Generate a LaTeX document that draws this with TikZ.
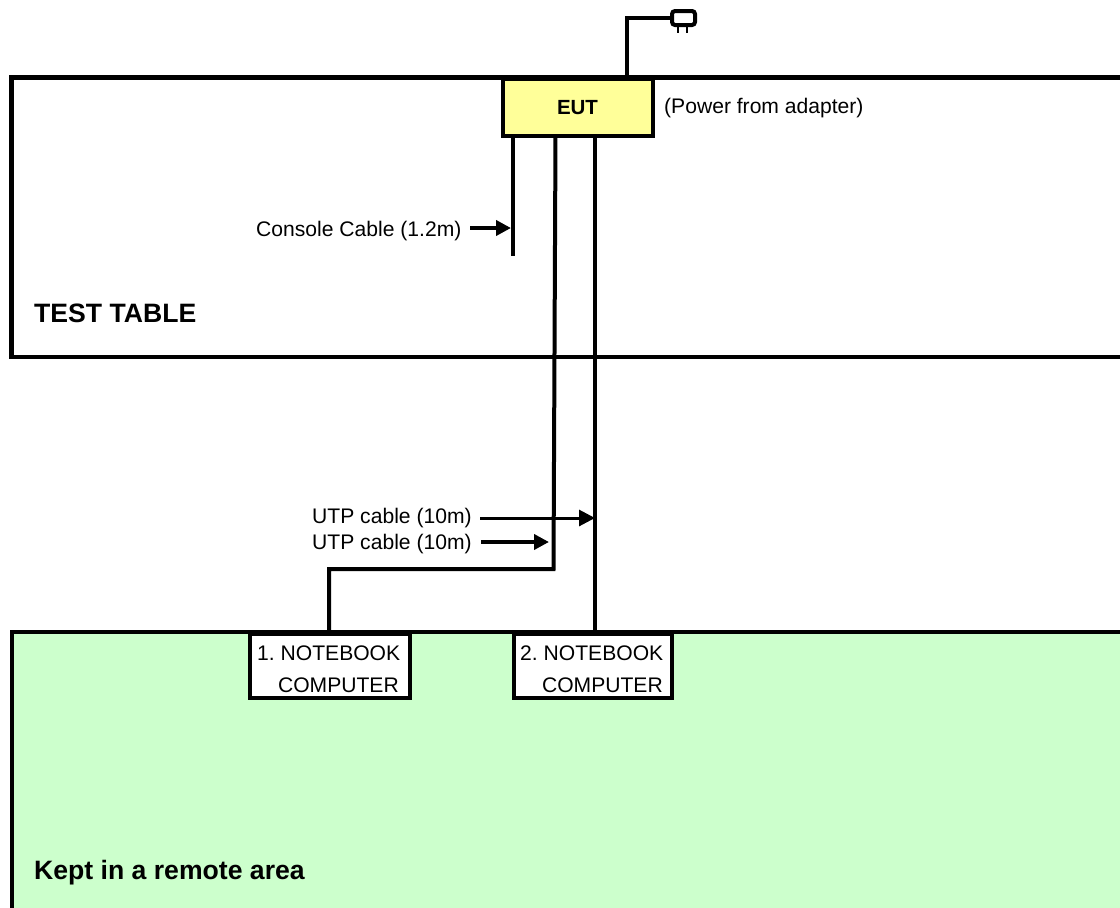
\documentclass[tikz,border=0pt]{standalone}
\usepackage{fontspec}
\setmainfont{Liberation Sans}
\usetikzlibrary{arrows.meta}
\tikzset{
  wire/.style={line width=4pt,line cap=butt,line join=miter},
  tablewire/.style={line width=4.5pt,line cap=butt,line join=miter},
  lbl/.style={font=\fontsize{21.1}{24}\selectfont\frenchspacing,inner sep=0pt,anchor=base west},
  big/.style={font=\fontsize{26.6}{30}\selectfont\bfseries,inner sep=0pt,anchor=base west},
  pointer/.style={line width=3pt,-{Triangle[length=16pt,width=16pt]}},
  pointerb/.style={line width=4pt,-{Triangle[length=15pt,width=15pt]}}
}
\definecolor{eutfill}{RGB}{255,255,153}
\definecolor{remote}{RGB}{204,255,204}
\begin{document}
\begin{tikzpicture}[x=1pt,y=-1pt]
\useasboundingbox (0,0) rectangle (1120,908);
% remote area
\fill[remote] (12,632) rectangle (1120,908);
\draw[wire] (12,908) -- (12,632) -- (1120,632);
% test table
\draw[tablewire] (1120,77.5) -- (11.5,77.5) -- (11.5,357) -- (1120,357);
% free ends
\coordinate (plugL) at (627,18);
\coordinate (consoleEnd) at (513,256);
\coordinate (utpTop) at (555.5,136);
\coordinate (utpBend1) at (553.5,569);
\coordinate (utpBend2) at (329,569);
\coordinate (tipA) at (595,518);
\coordinate (tipB) at (549,542);
\coordinate (tipC) at (511,228);
% equipment
\node[draw=black,line width=4pt,fill=eutfill,minimum width=150pt,minimum height=57pt,inner sep=0pt,
  font=\fontsize{20.5}{24}\selectfont\bfseries] (eut) at (577.5,107.5) {EUT};
\node[draw=black,line width=4pt,fill=white,minimum width=160pt,minimum height=64pt,inner sep=0pt] (nb1) at (330,666) {};
\node[draw=black,line width=4pt,fill=white,minimum width=158pt,minimum height=64pt,inner sep=0pt] (nb2) at (593,666) {};
% plug
\node[draw=black,line width=4pt,rounded corners=3pt,minimum width=23pt,minimum height=14pt,inner sep=0pt] (plug) at (683.5,18) {};
\draw[line width=1.5pt] (678,26) -- (678,33);
\draw[line width=1.5pt] (687,26) -- (687,33);
\draw[wire] (eut.north -| plugL) -- (plugL) -- (plug.west);
% cables
\draw[wire] (eut.south -| consoleEnd) -- (consoleEnd);
\draw[wire] (utpTop) -- (utpBend1) -- (utpBend2) -- (utpBend2 |- nb1.north);
\draw[wire] (eut.south -| tipA) -- (tipA |- nb2.north);
% labels
\node[lbl] (lPower) at (664,113) {(Power from adapter)};
\node[lbl] (lConsole) at (256,236) {Console Cable (1.2m)};
\node[lbl] (lUtpA) at (312,523) {UTP cable (10m)};
\node[lbl] (lUtpB) at (312,549) {UTP cable (10m)};
\node[big] (lTable) at (34,322) {TEST TABLE};
\node[big] (lRemote) at (34,879) {Kept in a remote area};
\node[lbl] (n1a) at (257,660) {1. NOTEBOOK};
\node[lbl,anchor=base east] (n1b) at (399,692) {COMPUTER};
\node[lbl] (n2a) at (520,660) {2. NOTEBOOK};
\node[lbl,anchor=base east] (n2b) at (663,692) {COMPUTER};
% pointers
\draw[pointerb] (470,228) -- (tipC);
\draw[pointer] (480,518) -- (tipA);
\draw[pointerb] (481,542) -- (tipB);
\end{tikzpicture}
\end{document}
